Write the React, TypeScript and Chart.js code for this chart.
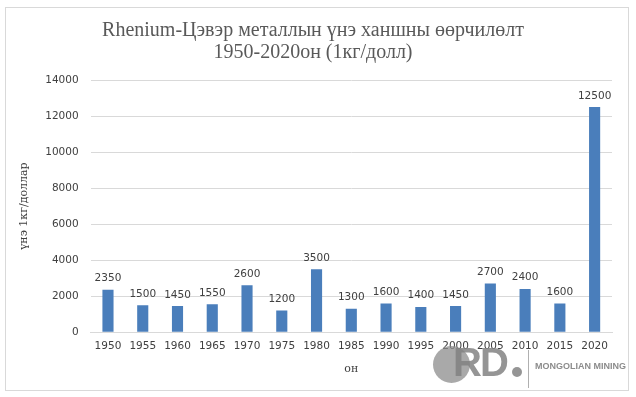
import React, { useEffect, useRef } from "react";
import { Chart, registerables } from "chart.js";
Chart.register(...registerables);

const years = ["1950","1955","1960","1965","1970","1975","1980","1985","1990","1995","2000","2005","2010","2015","2020"];
const prices = [2350,1500,1450,1550,2600,1200,3500,1300,1600,1400,1450,2700,2400,1600,12500];
const titleLines = ["Rhenium-Цэвэр металлын үнэ ханшны өөрчилөлт", "1950-2020он (1кг/долл)"];
const xTitle = "он";
const yTitle = "үнэ 1кг/доллар";

const TICK_FONT = "'DejaVu Sans', Verdana, sans-serif";

const labelPlugin = {
  id: "barLabels",
  afterDatasetsDraw(chart: any) {
    const ctx = chart.ctx;
    const meta = chart.getDatasetMeta(0);
    ctx.save();
    ctx.font = `10.5px ${TICK_FONT}`;
    ctx.fillStyle = "#404040";
    ctx.textAlign = "center";
    ctx.textBaseline = "bottom";
    meta.data.forEach((el: any, i: number) => {
      ctx.fillText(String(prices[i]), el.x, el.y - 6);
    });
    ctx.restore();
  },
};

export default function App() {
  const ref = useRef<HTMLCanvasElement | null>(null);
  useEffect(() => {
    document.body.style.margin = "0";
    const chart = new Chart(ref.current!, {
      type: "bar",
      data: {
        labels: years,
        datasets: [
          {
            data: prices,
            backgroundColor: "#4a7ebb",
            barPercentage: 0.32,
            categoryPercentage: 1,
          },
        ],
      },
      options: {
        animation: false,
        responsive: false,
        layout: { padding: { left: 14, right: 24, top: 14, bottom: 17 } },
        plugins: {
          legend: { display: false },
          tooltip: { enabled: false },
          title: {
            display: true,
            text: titleLines,
            color: "#595959",
            font: { family: "'Liberation Serif', serif", size: 20, weight: "normal", lineHeight: 1.1 },
            padding: { top: 6, bottom: 16 },
          },
        },
        scales: {
          x: {
            grid: { display: false, drawTicks: false },
            border: { display: true, color: "#d9d9d9" },
            ticks: { color: "#404040", font: { family: TICK_FONT, size: 10.5 }, padding: 8, maxRotation: 0 },
            title: { display: true, text: xTitle, color: "#404040", font: { family: "'DejaVu Serif', serif", size: 11 }, padding: { top: 2 } },
          },
          y: {
            min: 0,
            max: 14000,
            ticks: { stepSize: 2000, color: "#404040", font: { family: TICK_FONT, size: 10.5 }, padding: 12, callback: (v: any) => String(v) },
            grid: { color: "#d9d9d9", drawTicks: false },
            border: { display: false },
            title: { display: true, text: yTitle, color: "#404040", font: { family: "'DejaVu Serif', serif", size: 11 }, padding: { bottom: 2 } },
          },
        },
      },
      plugins: [labelPlugin],
    });
    return () => chart.destroy();
  }, []);

  return (
    <div style={{ position: "relative", width: 636, height: 397, background: "#fff" }}>
      <canvas ref={ref} width={636} height={397} style={{ display: "block" }} />
      <div style={{ position: "absolute", left: 5, top: 7, width: 622, height: 382, border: "1px solid #d9d9d9", pointerEvents: "none" }} />
      <div style={{ position: "absolute", left: 433, top: 346, width: 37, height: 37, borderRadius: "50%", background: "rgba(140,140,140,0.75)" }} />
      <div style={{ position: "absolute", left: 453, top: 338, fontFamily: "'Liberation Sans', Arial, sans-serif", fontWeight: "bold", fontSize: 40, color: "rgba(130,130,130,0.85)", letterSpacing: -2, lineHeight: "48px" }}>RD</div>
      <div style={{ position: "absolute", left: 512, top: 367, width: 10, height: 10, borderRadius: "50%", background: "rgba(130,130,130,0.85)" }} />
      <div style={{ position: "absolute", left: 528, top: 350, width: 1, height: 38, background: "#b0b0b0" }} />
      <div style={{ position: "absolute", left: 535, top: 361, fontFamily: "'Liberation Sans', Arial, sans-serif", fontWeight: "bold", fontSize: 9, color: "#8c8c8c" }}>MONGOLIAN MINING</div>
    </div>
  );
}
